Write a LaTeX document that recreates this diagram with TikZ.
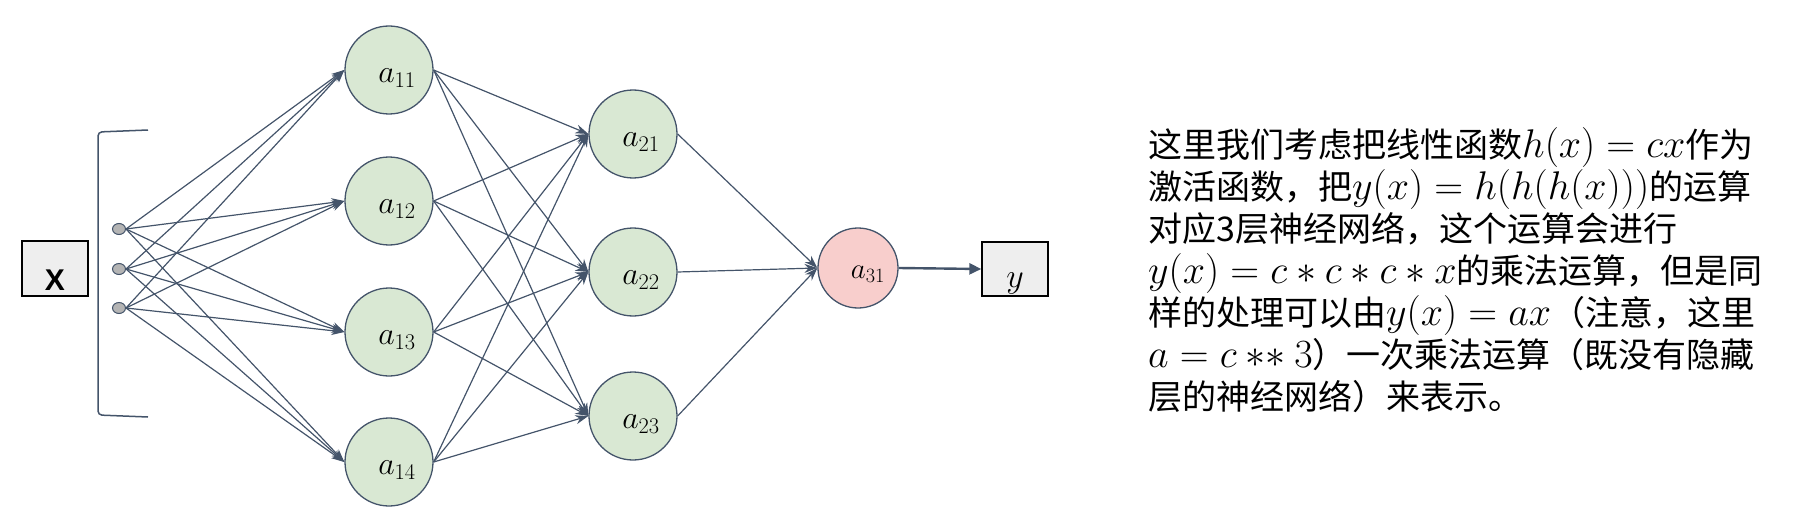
\RequirePackage{fix-cm}
\documentclass[tikz,border=0pt]{standalone}
\usepackage{fontspec}
\newfontfamily\cjk{Noto Sans CJK SC}
\newfontfamily\sansb{Liberation Sans}[BoldFont={Liberation Sans Bold}]
\usetikzlibrary{arrows.meta,shapes.geometric}
\definecolor{edgec}{HTML}{44546A}
\definecolor{gfill}{HTML}{D9E8D3}
\definecolor{pfill}{HTML}{F8CECC}
\definecolor{bfill}{HTML}{EEEEEE}
\definecolor{dotfill}{HTML}{B4B4B4}
\newcommand\mth[1]{{\fontsize{40}{42}\selectfont$#1$}}
\begin{document}
\begin{tikzpicture}[x=1pt,y=-1pt,
  neuron/.style={circle,draw=edgec,line width=1.3pt,fill=gfill,minimum size=88pt,inner sep=0pt},
  outneuron/.style={circle,draw=edgec,line width=1.3pt,fill=pfill,minimum size=80pt,inner sep=0pt},
  lab/.style={font=\fontsize{32}{34}\selectfont,inner sep=0pt},
  iobox/.style={rectangle,draw=black,line width=1.4pt,fill=bfill,minimum width=66pt,minimum height=55pt,inner sep=0pt},
  indot/.style={ellipse,draw=edgec,line width=1pt,fill=dotfill,minimum width=13pt,minimum height=11pt,inner sep=0pt},
  conn/.style={draw=edgec,line width=1.2pt,-{Stealth[length=13pt,width=9pt]}},
  thickconn/.style={draw=edgec,line width=2.4pt,-{Triangle[length=12pt,width=11pt]}},
  txt/.style={anchor=north west,align=left,inner sep=0pt,font=\cjk\fontsize{34}{42}\selectfont}
]
\useasboundingbox (0,0) rectangle (1810,524);
% input box
\node[iobox,label={[yshift=-12pt,font=\sansb\bfseries\fontsize{30}{32}\selectfont,inner sep=0pt]center:X}] (X) at (55,268.5) {};
% bracket
\draw[edgec,line width=1.5pt,rounded corners=4pt] (148,130) -- (98,132) -- (98,415) -- (148,417);
% input dots
\node[indot] (d1) at (119,229) {};
\node[indot] (d2) at (119,269) {};
\node[indot] (d3) at (119,308) {};
% layer 1
\node[neuron,label={[lab,xshift=8pt,yshift=-8pt]center:$a_{11}$}] (a11) at (389,70) {};
\node[neuron,label={[lab,xshift=8pt,yshift=-8pt]center:$a_{12}$}] (a12) at (389,201) {};
\node[neuron,label={[lab,xshift=8pt,yshift=-8pt]center:$a_{13}$}] (a13) at (389,332) {};
\node[neuron,label={[lab,xshift=8pt,yshift=-8pt]center:$a_{14}$}] (a14) at (389,462) {};
% layer 2
\node[neuron,label={[lab,xshift=8pt,yshift=-8pt]center:$a_{21}$}] (a21) at (633,134) {};
\node[neuron,label={[lab,xshift=8pt,yshift=-8pt]center:$a_{22}$}] (a22) at (633,272) {};
\node[neuron,label={[lab,xshift=8pt,yshift=-8pt]center:$a_{23}$}] (a23) at (633,416) {};
% output neuron
\node[outneuron,label={[lab,font=\fontsize{29}{31}\selectfont,xshift=10pt,yshift=-6pt]center:$a_{31}$}] (a31) at (858,268) {};
% output box
\node[iobox,minimum height=54pt,label={[yshift=-14pt,font=\fontsize{34}{36}\selectfont,inner sep=0pt]center:$y$}] (Y) at (1015,269) {};
% connections
\foreach \d in {d1,d2,d3}
  \foreach \a in {a11,a12,a13,a14}
    \draw[conn] (\d.east) -- (\a.west);
\foreach \s in {a11,a12,a13,a14}
  \foreach \t in {a21,a22,a23}
    \draw[conn] (\s.east) -- (\t.west);
\foreach \s in {a21,a22,a23}
  \draw[conn] (\s.east) -- (a31.west);
\draw[thickconn] (a31.east) -- (Y.west);
% text
\node[txt] (T) at (1148,127) {这里我们考虑把线性函数\mth{h(x)=cx}作为\\
激活函数，把\mth{y(x)=h(h(h(x)))}的运算\\
对应3层神经网络，这个运算会进行\\
\mth{y(x)=c*c*c*x}的乘法运算，但是同\\
样的处理可以由\mth{y(x)=ax}（注意，这里\\
\mth{a=c\mathbin{{*}{*}}3}）一次乘法运算（既没有隐藏\\
层的神经网络）来表示。};
\end{tikzpicture}
\end{document}
